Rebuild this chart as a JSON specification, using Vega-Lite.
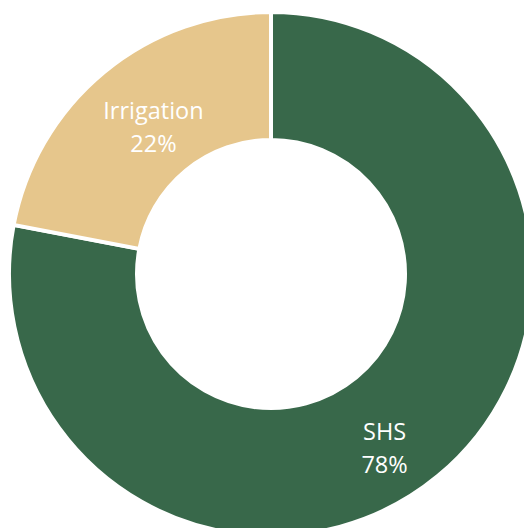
{
  "$schema": "https://vega.github.io/schema/vega-lite/v6.json",
  "width": 542,
  "height": 548,
  "padding": 0,
  "autosize": {"type": "none"},
  "background": "white",
  "view": {"stroke": null},
  "data": {"values": [
    {"category": "SHS", "value": 78, "order": 1, "label": "SHS\n78%"},
    {"category": "Irrigation", "value": 22, "order": 2, "label": "Irrigation\n22%"}
  ]},
  "encoding": {
    "theta": {"field": "value", "type": "quantitative", "stack": true},
    "order": {"field": "order", "type": "quantitative"}
  },
  "layer": [
    {
      "mark": {"type": "arc", "outerRadius": 262, "innerRadius": 134, "stroke": "white", "strokeWidth": 4},
      "encoding": {
        "color": {"field": "category", "type": "nominal", "scale": {"domain": ["SHS", "Irrigation"], "range": ["#38684A", "#E6C68C"]}, "legend": null}
      }
    },
    {
      "mark": {"type": "text", "radius": 197, "dx": 8, "dy": -10, "fill": "white", "font": "Open Sans", "fontSize": 23.5, "lineBreak": "\n", "lineHeight": 33, "baseline": "middle", "align": "center"},
      "encoding": {
        "text": {"field": "label", "type": "nominal"},
        "opacity": {"condition": {"test": "datum.category === 'Irrigation'", "value": 1}, "value": 0}
      }
    },
    {
      "mark": {"type": "text", "radius": 197, "dx": -12, "dy": 7, "fill": "white", "font": "Open Sans", "fontSize": 23.5, "lineBreak": "\n", "lineHeight": 33, "baseline": "middle", "align": "center"},
      "encoding": {
        "text": {"field": "label", "type": "nominal"},
        "opacity": {"condition": {"test": "datum.category === 'SHS'", "value": 1}, "value": 0}
      }
    }
  ]
}
